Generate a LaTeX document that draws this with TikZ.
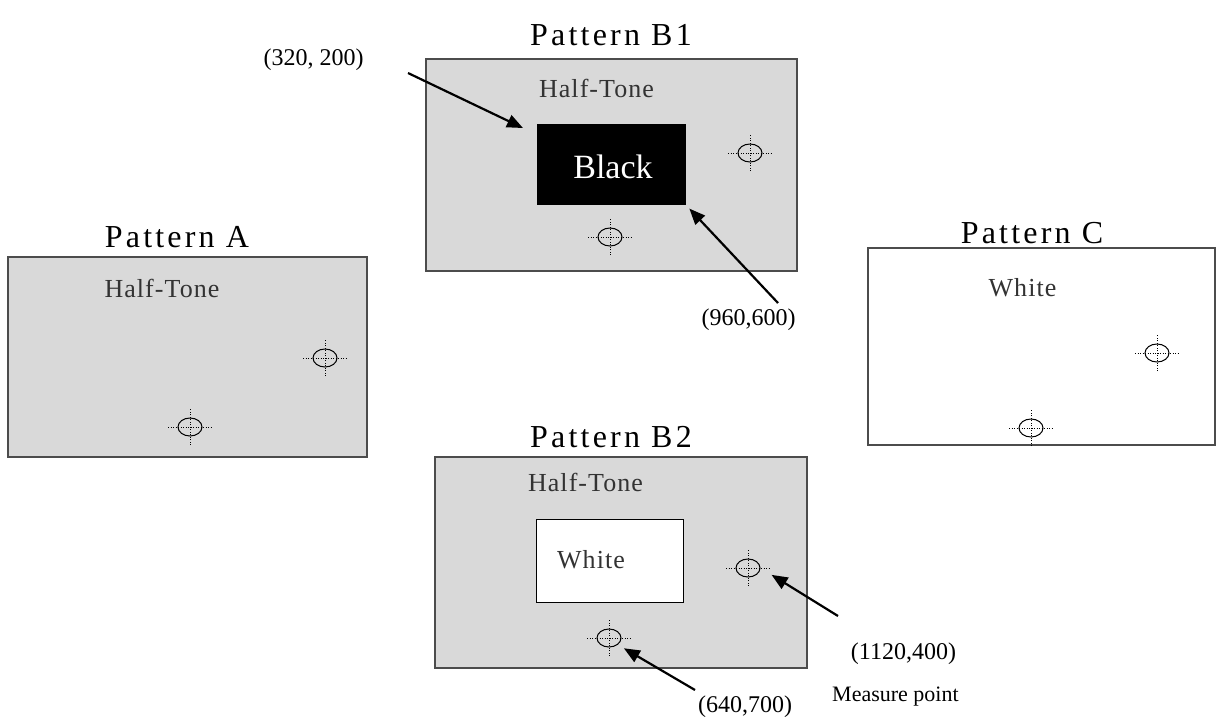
\documentclass[tikz,border=0pt]{standalone}
\usepackage{fontspec}
\setmainfont{Liberation Serif}
\newfontfamily\titlefont[LetterSpace=10]{Liberation Serif}
\newfontfamily\wordfont[LetterSpace=4]{Liberation Serif}
\usepackage{tikz}
\usetikzlibrary{shapes.geometric,arrows.meta,positioning}
\definecolor{halftone}{gray}{0.85}

\begin{document}
\begin{tikzpicture}[
  x=1pt, y=-1pt,
  panel/.style={draw=black!70, line width=1.2pt, inner sep=0pt},
  ht/.style={panel, fill=halftone},
  title/.style={font=\titlefont\fontsize{32}{38}\selectfont, anchor=base, inner sep=0pt},
  word/.style={font=\wordfont\fontsize{26}{30}\selectfont, text=black!80, anchor=base, inner sep=0pt},
  coord/.style={font=\fontsize{24}{28}\selectfont, anchor=base, inner sep=0pt},
  mpt/.style={draw, ellipse, line width=1pt, minimum width=24pt, minimum height=18pt, inner sep=0pt},
  cross/.style={line width=0.8pt, dash pattern=on 1pt off 1.5pt},
  ptr/.style={-{Triangle[length=16pt,width=13pt]}, line width=2.2pt}
]
\useasboundingbox (0,0) rectangle (1218,716);

% Pattern A
\node[ht, minimum width=359pt, minimum height=200pt] (boxA) at (187.5,357) {};
\node[title] (ttlA) at (177,247) {Pattern A};
\node[word] (htA) at (162,297) {Half-Tone};
\node[mpt] (mA1) at (325,358) {};
\node[mpt] (mA2) at (190,427) {};

% Pattern B1
\node[ht, minimum width=371pt, minimum height=212pt] (boxB1) at (611.5,165) {};
\node[draw, fill=black, minimum width=148pt, minimum height=80pt, inner sep=0pt] (blk) at (611,164) {};
\node[font=\fontsize{34}{40}\selectfont, text=white, anchor=base, inner sep=0pt] (blkTxt) at (613,178) {Black};
\node[title] (ttlB1) at (611,45) {Pattern B1};
\node[word] (htB1) at (596.5,97) {Half-Tone};
\node[mpt] (mB1r) at (750,153) {};
\node[mpt] (mB1b) at (610,237) {};

% Pattern B2
\node[ht, minimum width=372pt, minimum height=211pt] (boxB2) at (621,562.5) {};
\node[draw, line width=1pt, fill=white, minimum width=147pt, minimum height=83pt, inner sep=0pt] (wht) at (609.5,560.5) {};
\node[title] (ttlB2) at (611,447) {Pattern B2};
\node[word] (htB2) at (585.5,491) {Half-Tone};
\node[word] (whtTxt) at (591,568) {White};
\node[mpt] (mB2r) at (748,568) {};
\node[mpt] (mB2b) at (609,638) {};

% Pattern C
\node[panel, fill=white, minimum width=347pt, minimum height=197pt] (boxC) at (1041.5,346.5) {};
\node[title] (ttlC) at (1032,243) {Pattern C};
\node[word] (whtC) at (1022.5,296) {White};
\node[mpt] (mC1) at (1157,353) {};
\node[mpt] (mC2) at (1031,428) {};

% cross hairs
\foreach \m in {mA1,mA2,mB1r,mB1b,mB2r,mB2b,mC1,mC2}{
  \draw[cross] ([xshift=-22pt]\m.center) -- ([xshift=22pt]\m.center);
  \draw[cross] ([yshift=-18pt]\m.center) -- ([yshift=18pt]\m.center);
}

% Labels
\node[coord] (l320) at (313.5,65) {(320, 200)};
\node[coord] (l960) at (748.5,325) {(960,600)};
\node[coord] (l640) at (745,712) {(640,700)};
\node[coord] (l1120) at (903.5,659) {(1120,400)};
\node[font=\fontsize{22}{26}\selectfont, anchor=base west, inner sep=0pt] (lmp) at (832,701) {Measure point};

% Arrows
\coordinate (t320) at (408,73);
\coordinate (h320) at (523,128);
\coordinate (t960) at (778,303);
\coordinate (t640) at (695,690);
\coordinate (t1120) at (838,616);
\draw[ptr] (t320) -- (h320);
\draw[ptr, shorten >=6pt] (t960) -- (blk.south east);
\draw[ptr, shorten >=7pt] (t640) -- (mB2b.south east);
\draw[ptr, shorten >=13pt] (t1120) -- (mB2r.east);
\end{tikzpicture}
\end{document}
